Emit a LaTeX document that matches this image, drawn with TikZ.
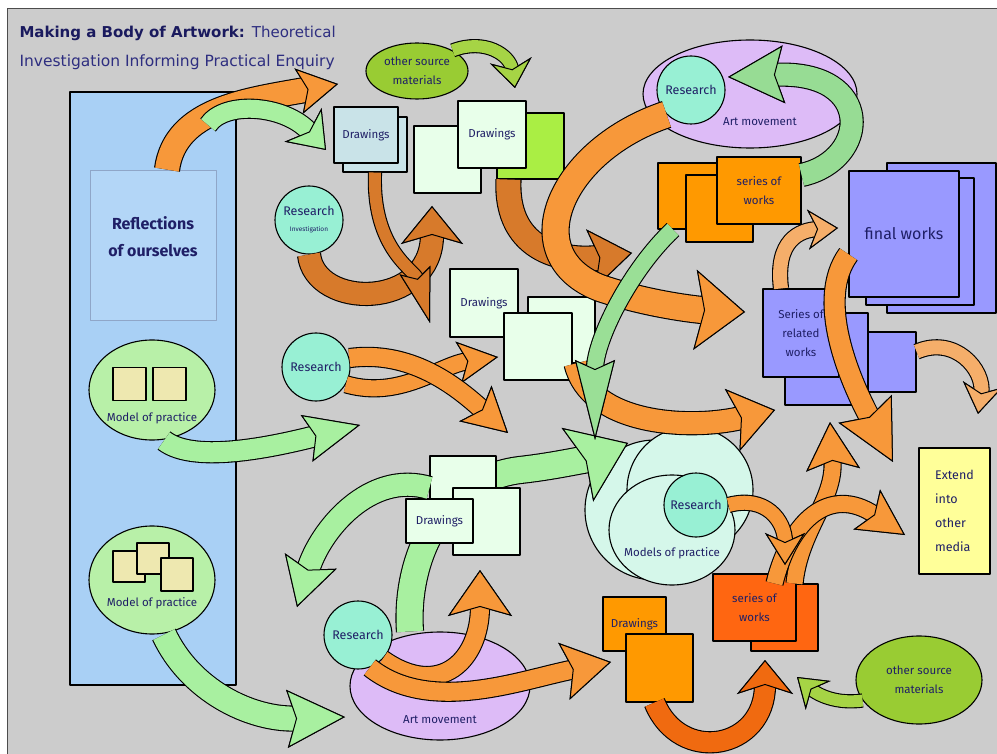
\documentclass[tikz,border=0pt]{standalone}
\usepackage{fontspec}
\setmainfont{DejaVu Sans}
\newfontfamily\handfont{Fira Sans}
\usetikzlibrary{arrows.meta,shapes.geometric}

\definecolor{bggray}{HTML}{CCCCCC}
\definecolor{ink}{HTML}{1F1F66}
\definecolor{titleink}{HTML}{1A1A5E}
\definecolor{subink}{HTML}{2E2E80}
\definecolor{leftblue}{HTML}{A9D0F5}
\definecolor{reflblue}{HTML}{B3D6F7}
\definecolor{reflline}{HTML}{8FA6C8}
\definecolor{paleg}{HTML}{E8FFEA}
\definecolor{modelg}{HTML}{B8F0A8}
\definecolor{sqyel}{HTML}{EEE8B0}
\definecolor{mint}{HTML}{98F0D4}
\definecolor{lime}{HTML}{99CC33}
\definecolor{limebox}{HTML}{AAEE44}
\definecolor{bluegrey}{HTML}{C9E3E8}
\definecolor{lilac}{HTML}{DDBBF7}
\definecolor{orbox}{HTML}{FF9900}
\definecolor{dorbox}{HTML}{FF6611}
\definecolor{violet}{HTML}{9999FF}
\definecolor{paleyel}{HTML}{FFFF99}
\definecolor{paleaqua}{HTML}{D5F7EA}
\definecolor{arrO}{HTML}{F7983A}
\definecolor{arrD}{HTML}{D77A2B}
\definecolor{arrR}{HTML}{F06A10}
\definecolor{arrG}{HTML}{A8F0A0}
\definecolor{arrGm}{HTML}{8CCF8C}
\definecolor{arrL}{HTML}{A6D445}
\definecolor{arrP}{HTML}{F5AE6A}

\tikzset{
  fat/.style n args={4}{
    preaction={draw=black, line width=#2+2.2pt,
      -{Stealth[width=#3,length=#4,inset=9pt,fill=#1,color=black,line width=1pt]}},
    draw=#1, line width=#2,
    -{Stealth[width=#3,length=#4,inset=9pt,fill=#1,color=black,line width=1pt]}},
  lbl/.style={font=\handfont\fontsize{11.5}{13}\selectfont, text=ink},
  card/.style={draw, line width=1.1pt, fill=#1, inner sep=2pt, align=center,
    font=\handfont\fontsize{11.5}{19}\selectfont, text=ink},
  blob/.style={draw, line width=1.1pt, fill=#1, ellipse, inner sep=0pt, align=center,
    font=\handfont\fontsize{11.5}{19}\selectfont, text=ink},
  disc/.style={draw, line width=1.1pt, fill=#1, circle, inner sep=0pt, align=center,
    font=\handfont\fontsize{12.5}{13}\selectfont, text=ink}
}

\begin{document}
\begin{tikzpicture}[x=1pt,y=-1pt,line join=round]
\useasboundingbox (0,0) rectangle (997,754);
% frame and background
\fill[white] (0,0) rectangle (997,754);
\draw[fill=bggray, draw=black!70] (7,8) rectangle (997,754);

% title
\node[anchor=west, font=\bfseries\fontsize{15}{17}\selectfont, text=titleink] (ttl) at (16,33)
  {Making a Body of Artwork: \mdseries\color{subink}Theoretical};
\node[anchor=west, font=\fontsize{15.5}{17}\selectfont, text=subink] (sub) at (16,62)
  {Investigation Informing Practical Enquiry};

% left column
\node[draw, line width=1.2pt, fill=leftblue, minimum width=166, minimum height=593, inner sep=0pt] (col) at (153,388.5) {};
\node[draw=reflline, line width=0.8pt, fill=reflblue, minimum width=126, minimum height=150] (refl) at (153,245) {};
\node[font=\handfont\bfseries\fontsize{16}{27}\selectfont, text=ink, align=center] (reflt) at (153,237) {Reflections\\of ourselves};

\node[blob=modelg, minimum width=126, minimum height=100] (mop1) at (152,390) {};
\node[card=sqyel, minimum size=33] (mq1) at (129.5,384) {};
\node[card=sqyel, minimum size=33] (mq2) at (169.5,384) {};
\node[lbl] (mop1t) at (152,418) {Model of practice};

\node[blob=modelg, minimum width=126, minimum height=108] (mop2) at (152,580) {};
\node[card=sqyel, minimum width=32, minimum height=31] (mr1) at (129,566.5) {};
\node[card=sqyel, minimum width=32, minimum height=31] (mr2) at (153,558.5) {};
\node[card=sqyel, minimum width=32, minimum height=33] (mr3) at (177,574.5) {};
\node[lbl] (mop2t) at (152,603) {Model of practice};

% art movements and models of practice
\node[blob=lilac, minimum width=214, minimum height=108] (artT) at (750,94) {};
\node[lbl] (artTt) at (760,122) {Art movement};
\node[blob=lilac, minimum width=180, minimum height=108] (artB) at (440,686) {};
\node[lbl] (artBt) at (440,720) {Art movement};

\node[disc=paleaqua, minimum size=140] (modA) at (655,510) {};
\node[disc=paleaqua, minimum size=126] (modB) at (690,490) {};

% green path behind the lower drawings
\coordinate (tG11) at (628,443);
\draw[fat={arrG}{26pt}{80pt}{55pt}] ([xshift=-30]artB.north) .. controls (405,560) and (440,480) .. (520,470) .. controls (565,465) and (600,455) .. (tG11);

\node[blob=paleaqua, minimum width=126, minimum height=110] (modC) at (672,530) {};
\node[lbl] (modCt) at (672,553) {Models of practice};

% drawings
\node[card=bluegrey, minimum width=64, minimum height=55] (tdb) at (375,144.5) {};
\node[card=bluegrey, minimum width=64, minimum height=56] (tdr) at (366,135) {Drawings};

\node[card=paleg, minimum width=67, minimum height=67] (cdb) at (447.5,159.5) {};
\node[card=limebox, minimum width=67, minimum height=66] (cdg) at (530.5,146) {};
\node[card=paleg, minimum width=68, minimum height=67] (cdr) at (492,134.5) {Drawings};

\node[card=paleg, minimum width=68, minimum height=68] (mdr) at (484,303) {Drawings};
\node[card=paleg, minimum width=67, minimum height=66] (mdb) at (561.5,330) {};
\node[card=paleg, minimum width=68, minimum height=67] (mdc) at (538,346.5) {};

\node[card=paleg, minimum width=66, minimum height=64] (bdb) at (463,488) {};
\node[card=paleg, minimum width=67, minimum height=67] (bdc) at (486.5,521.5) {};
\node[card=paleg, minimum width=67, minimum height=44] (bdr) at (439.5,521) {Drawings};

\node[card=orbox, minimum width=63, minimum height=54] (od1) at (634.5,624) {Drawings};
\node[card=orbox, minimum width=67, minimum height=68] (od2) at (659.5,668) {};

% series and final works
\node[card=orbox, minimum width=60, minimum height=66] (st1) at (688,196) {};
\node[card=orbox, minimum width=67, minimum height=67] (st2) at (719.5,208.5) {};
\node[card=orbox, minimum width=84, minimum height=67] (st3) at (759,190.5) {series of\\works};

\node[card=violet, minimum width=109, minimum height=150] (fw3) at (941.5,238) {};
\node[card=violet, minimum width=108, minimum height=127] (fw2) at (920,241.5) {};
\node[card=violet, minimum width=110, minimum height=126, font=\handfont\fontsize{16}{18}\selectfont] (fw1) at (904,234) {final works};

\node[card=violet, minimum width=76, minimum height=60] (rw3) at (878,362) {};
\node[card=violet, minimum width=83, minimum height=92] (rw2) at (826.5,359) {};
\node[card=violet, minimum width=76, minimum height=88] (rw1) at (801,333) {Series of\\related\\works};

\node[card=paleyel, minimum width=71, minimum height=126, align=left, font=\handfont\fontsize{12.5}{24}\selectfont] (ext) at (954.5,511) {Extend\\into\\other\\media};

\node[card=dorbox, minimum width=67, minimum height=67] (sb2) at (784.5,617.5) {};
\node[card=dorbox, minimum width=83, minimum height=67] (sb1) at (754.5,607.5) {series of\\works};

% other sources
\node[blob=lime, minimum width=102, minimum height=56] (osT) at (417,71) {other source\\materials};
\node[blob=lime, minimum width=126, minimum height=88] (osB) at (919,680) {other source\\materials};

% research
\node[disc=mint, minimum size=68] (resI) at (309,220) {Research\\[3pt]{\fontsize{6.5}{7}\selectfont Investigation}};
\node[disc=mint, minimum size=68] (resM) at (316,367) {Research};
\node[disc=mint, minimum size=68] (resA) at (691,90) {Research};
\node[disc=mint, minimum size=68] (resB) at (358,635) {Research};
\node[disc=mint, minimum size=64] (resC) at (696,505) {Research};

% arrows
\coordinate (sA2) at (208,125);
\coordinate (tA1) at (338,84);
\coordinate (tA2) at (326,150);
\coordinate (tA3) at (432,206);
\coordinate (tA4) at (430,323);
\coordinate (tA5a) at (632,253);
\coordinate (tA5b) at (745,312);
\coordinate (tA6) at (775,410);
\coordinate (tA7a) at (498,357);
\coordinate (tA7b) at (508,433);
\coordinate (tA8) at (360,425);
\coordinate (tA9) at (345,717);
\coordinate (tA10) at (297,607);
\coordinate (tA12) at (595,440);
\coordinate (tA13) at (728,77);
\coordinate (tA14) at (838,228);
\coordinate (tA15) at (893,462);
\coordinate (tA16) at (978,414);
\coordinate (tA17a) at (830,422);
\coordinate (tA17b) at (905,535);
\coordinate (tA18) at (785,565);
\coordinate (tA19) at (480,570);
\coordinate (tA20) at (611,662);
\coordinate (tA21) at (765,660);
\coordinate (tA22) at (797,677);
\coordinate (tA23) at (515,88);

\draw[fat={arrO}{24pt}{46pt}{40pt}] ([xshift=14]refl.north) .. controls (175,108) and (250,100) .. (tA1);
\draw[fat={arrG}{18pt}{50pt}{34pt}] (sA2) .. controls (225,100) and (285,105) .. (tA2);
\draw[fat={arrD}{22pt}{62pt}{38pt}] (resI.south) .. controls (315,310) and (432,310) .. (tA3);
\draw[fat={arrD}{12pt}{32pt}{55pt}] (tdb.south) .. controls (372,250) and (415,270) .. (tA4);
\draw[fat={arrD}{24pt}{60pt}{42pt}] ([xshift=-22]cdg.south) .. controls (505,255) and (570,262) .. (tA5a);
\draw[fat={arrO}{26pt}{80pt}{50pt}] (resA.south west) .. controls (560,150) and (515,255) .. (600,288) .. controls (650,305) and (700,310) .. (tA5b);
\draw[fat={arrO}{22pt}{64pt}{44pt}] ([xshift=14]mdb.south) .. controls (590,425) and (690,430) .. (tA6);
\draw[fat={arrO}{16pt}{42pt}{40pt}] (resM.-30) .. controls (400,400) and (440,365) .. (tA7a);
\draw[fat={arrO}{18pt}{48pt}{44pt}] (resM.15) .. controls (410,350) and (455,385) .. (tA7b);
\draw[fat={arrG}{20pt}{48pt}{55pt}] ([xshift=12]mop1.south) .. controls (195,465) and (280,445) .. (tA8);
\draw[fat={arrG}{24pt}{58pt}{58pt}] ([xshift=12]mop2.south) .. controls (190,690) and (250,720) .. (tA9);
\draw[fat={arrG}{22pt}{54pt}{48pt}] (bdb.west) .. controls (370,470) and (320,530) .. (tA10);
\draw[fat={arrGm!50!arrG}{16pt}{40pt}{80pt}] ([xshift=-15]st1.south) .. controls (630,270) and (595,340) .. (tA12);
\draw[fat={arrGm!60!arrG}{22pt}{58pt}{56pt}] (st3.20) .. controls (870,160) and (875,70) .. (tA13);
\draw[fat={arrP}{14pt}{40pt}{30pt}] ([xshift=-20]rw1.north) .. controls (775,240) and (800,230) .. (tA14);
\draw[fat={arrO}{20pt}{60pt}{60pt}] (fw1.200) .. controls (815,300) and (850,380) .. (tA15);
\draw[fat={arrP}{14pt}{40pt}{30pt}] (rw3.15) .. controls (955,335) and (985,370) .. (tA16);
\draw[fat={arrO}{16pt}{54pt}{48pt}] ([xshift=10]sb2.north) .. controls (800,530) and (835,500) .. (tA17a);
\draw[fat={arrO}{16pt}{48pt}{46pt}] ([xshift=-10]sb2.north) .. controls (790,520) and (830,485) .. (tA17b);
\draw[fat={arrO}{14pt}{40pt}{32pt}] (resC.east) .. controls (765,495) and (785,520) .. (tA18);
\draw[fat={arrO}{18pt}{64pt}{46pt}] (resB.south east) .. controls (440,700) and (480,660) .. (tA19);
\draw[fat={arrO}{18pt}{58pt}{48pt}] (resB.-70) .. controls (430,715) and (520,680) .. (tA20);
\draw[fat={arrR}{20pt}{56pt}{34pt}] ([xshift=-5]od2.south) .. controls (680,765) and (765,750) .. (tA21);
\draw[fat={arrL}{12pt}{38pt}{28pt}] (osB.200) .. controls (830,705) and (812,690) .. (tA22);
\draw[fat={arrL}{12pt}{42pt}{28pt}] (osT.30) .. controls (485,38) and (510,55) .. (tA23);
\end{tikzpicture}
\end{document}
